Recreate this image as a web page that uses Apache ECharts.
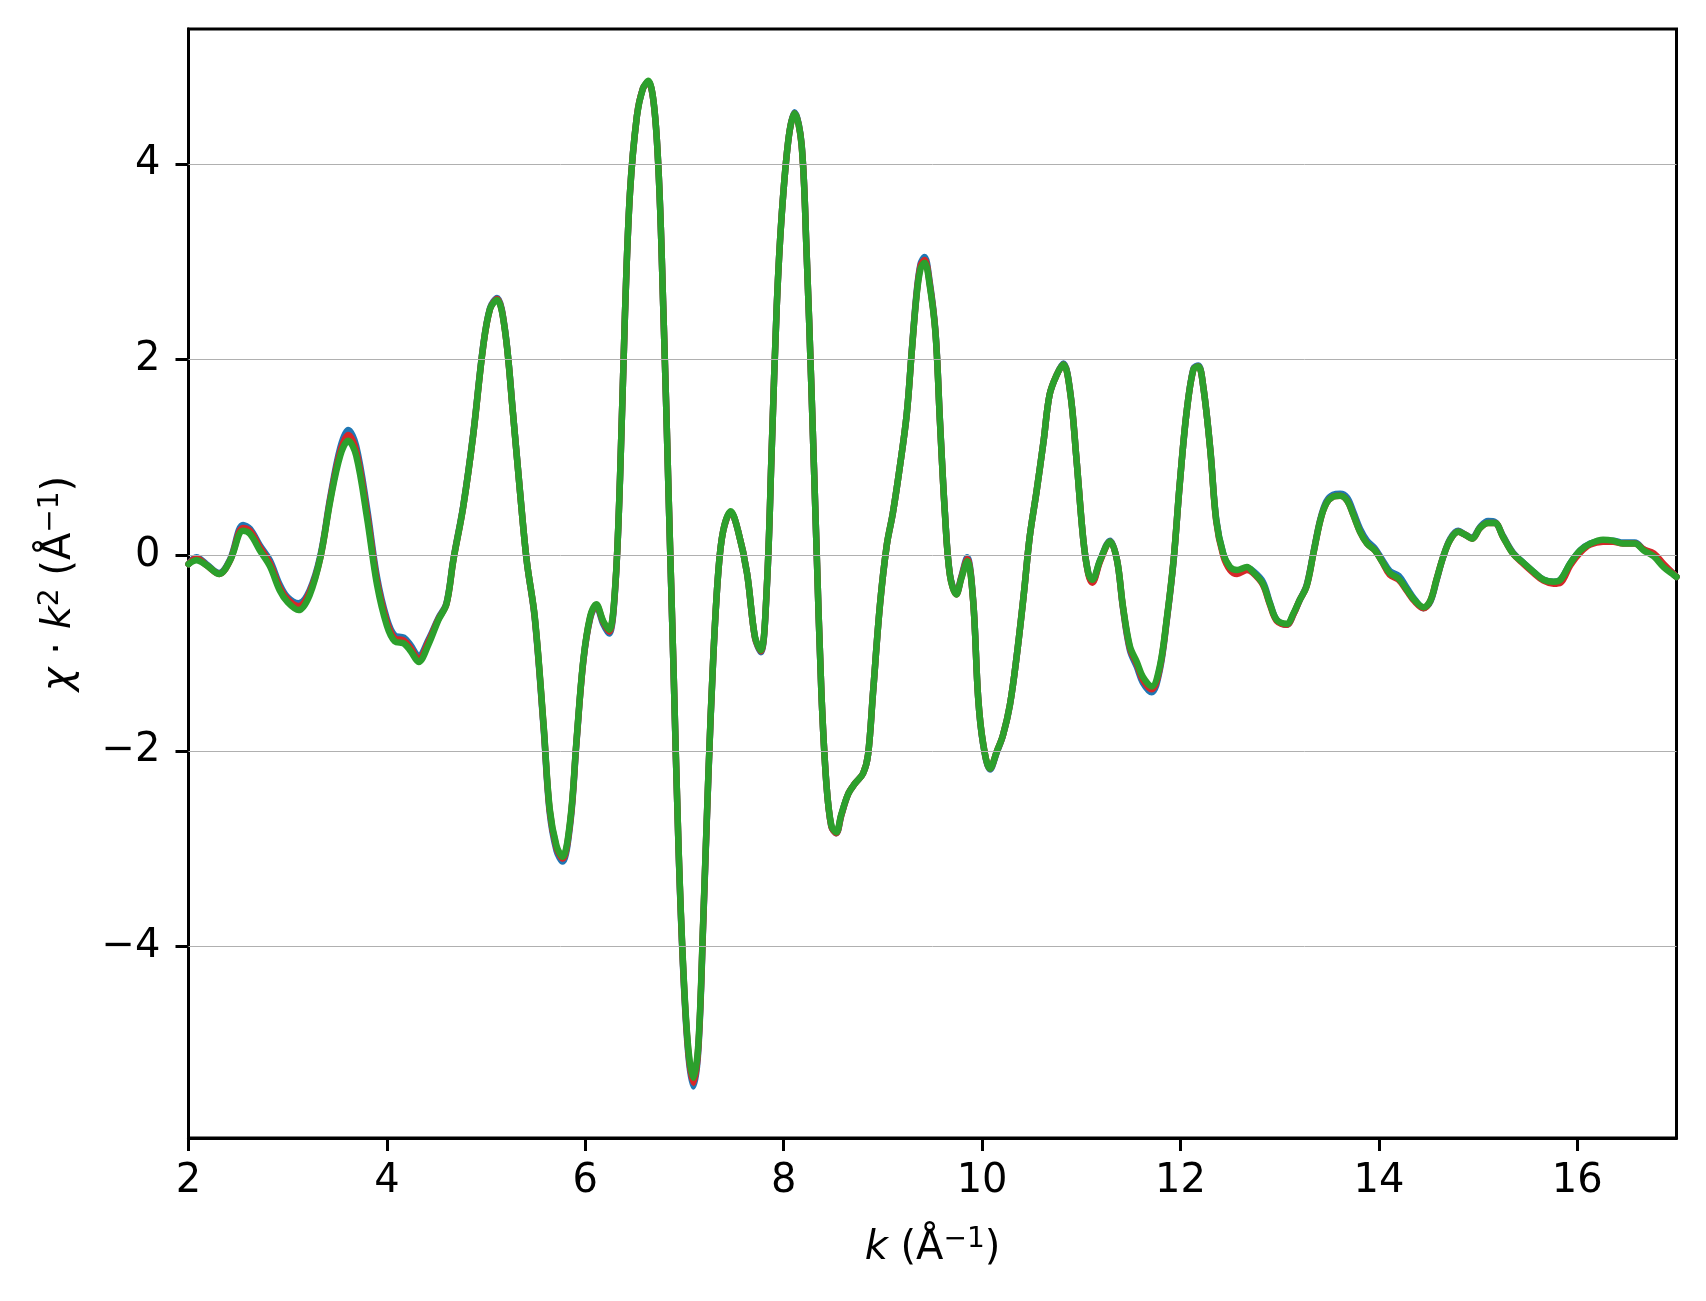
<!DOCTYPE html>
<html>
<head>
<meta charset="utf-8">
<script src="https://cdn.jsdelivr.net/npm/echarts@6/dist/echarts.min.js"></script>
<style>
html,body{margin:0;padding:0;background:#fff;}
#chart{width:1706px;height:1301px;}
</style>
</head>
<body>
<div id="chart"></div>
<script>
const kValues = [2.00,2.08,2.18,2.31,2.42,2.55,2.62,2.72,2.82,2.92,3.00,3.11,3.22,3.33,3.43,3.53,3.61,3.69,3.80,3.90,4.00,4.08,4.17,4.24,4.32,4.42,4.52,4.60,4.67,4.77,4.87,4.97,5.04,5.11,5.19,5.27,5.34,5.41,5.49,5.58,5.64,5.71,5.77,5.85,5.91,5.98,6.05,6.11,6.18,6.24,6.30,6.35,6.40,6.45,6.52,6.58,6.635,6.72,6.79,6.84,6.89,6.94,6.99,7.04,7.09,7.14,7.19,7.24,7.29,7.34,7.39,7.466,7.54,7.63,7.71,7.77,7.83,7.88,7.93,7.98,8.05,8.11,8.18,8.23,8.28,8.33,8.38,8.43,8.48,8.53,8.58,8.65,8.72,8.80,8.85,8.90,8.97,9.04,9.10,9.17,9.24,9.29,9.34,9.38,9.42,9.47,9.53,9.575,9.625,9.675,9.74,9.79,9.85,9.91,9.96,10.01,10.08,10.15,10.21,10.28,10.35,10.42,10.48,10.55,10.62,10.68,10.75,10.82,10.89,10.95,11.02,11.07,11.11,11.19,11.29,11.36,11.42,11.49,11.56,11.62,11.71,11.79,11.86,11.93,11.99,12.06,12.13,12.18,12.23,12.30,12.36,12.43,12.50,12.57,12.67,12.73,12.83,12.90,12.97,13.07,13.14,13.20,13.27,13.34,13.41,13.47,13.54,13.61,13.68,13.74,13.81,13.88,13.96,14.03,14.11,14.20,14.28,14.36,14.45,14.52,14.58,14.65,14.72,14.80,14.87,14.94,15.02,15.10,15.17,15.25,15.35,15.46,15.56,15.66,15.76,15.83,15.93,16.03,16.13,16.26,16.36,16.46,16.58,16.67,16.77,16.87,16.97,17.00];

const greenValues = [-0.09,-0.05,-0.10,-0.19,-0.05,0.25,0.22,0.05,-0.11,-0.36,-0.48,-0.56,-0.41,-0.02,0.56,1.02,1.17,1.02,0.38,-0.30,-0.72,-0.88,-0.90,-0.98,-1.09,-0.91,-0.66,-0.50,-0.05,0.50,1.23,2.13,2.52,2.61,2.30,1.46,0.67,-0.06,-0.62,-1.74,-2.58,-2.97,-3.08,-2.69,-1.91,-1.07,-0.62,-0.50,-0.67,-0.76,-0.34,0.79,2.47,3.70,4.49,4.77,4.85,4.27,2.40,0.61,-1.18,-2.98,-4.27,-5.06,-5.34,-4.99,-3.69,-2.26,-1.04,-0.18,0.25,0.45,0.25,-0.18,-0.83,-0.97,-0.32,1.11,2.55,3.48,4.27,4.52,4.20,3.12,1.69,0.11,-1.40,-2.33,-2.76,-2.83,-2.65,-2.44,-2.33,-2.23,-2.04,-1.41,-0.51,0.11,0.43,0.90,1.44,2.07,2.66,2.93,2.99,2.77,2.27,1.37,0.43,-0.20,-0.40,-0.24,-0.06,-0.47,-1.45,-1.92,-2.18,-2.00,-1.84,-1.53,-1.02,-0.40,0.19,0.66,1.17,1.64,1.84,1.95,1.65,1.00,0.16,-0.18,-0.25,-0.05,0.14,-0.05,-0.52,-0.93,-1.09,-1.24,-1.34,-1.14,-0.66,-0.05,0.70,1.45,1.90,1.93,1.72,1.08,0.36,0.02,-0.12,-0.15,-0.12,-0.17,-0.29,-0.49,-0.66,-0.70,-0.59,-0.46,-0.32,0.02,0.36,0.53,0.60,0.61,0.56,0.42,0.24,0.12,0.05,-0.06,-0.18,-0.24,-0.35,-0.46,-0.53,-0.46,-0.25,-0.01,0.16,0.24,0.21,0.17,0.28,0.33,0.33,0.19,0.02,-0.08,-0.17,-0.25,-0.27,-0.25,-0.08,0.05,0.12,0.16,0.15,0.12,0.12,0.05,-0.01,-0.12,-0.20,-0.22];

const redValues = [-0.09,-0.03,-0.10,-0.19,-0.05,0.28,0.25,0.08,-0.08,-0.33,-0.45,-0.52,-0.38,-0.02,0.58,1.06,1.23,1.07,0.43,-0.26,-0.68,-0.85,-0.87,-0.95,-1.06,-0.88,-0.65,-0.50,-0.05,0.50,1.23,2.13,2.52,2.62,2.30,1.46,0.67,-0.06,-0.63,-1.75,-2.60,-2.99,-3.10,-2.71,-1.92,-1.08,-0.63,-0.51,-0.68,-0.78,-0.35,0.79,2.47,3.70,4.49,4.77,4.84,4.27,2.40,0.61,-1.18,-2.99,-4.29,-5.09,-5.39,-5.02,-3.71,-2.27,-1.04,-0.18,0.25,0.44,0.25,-0.18,-0.84,-0.98,-0.32,1.11,2.55,3.48,4.27,4.52,4.20,3.12,1.69,0.11,-1.40,-2.33,-2.77,-2.84,-2.66,-2.44,-2.33,-2.23,-2.04,-1.41,-0.51,0.11,0.43,0.90,1.44,2.07,2.67,2.96,3.02,2.79,2.28,1.37,0.43,-0.20,-0.40,-0.23,-0.04,-0.47,-1.45,-1.92,-2.18,-2.00,-1.84,-1.53,-1.02,-0.40,0.19,0.66,1.17,1.64,1.84,1.95,1.65,1.00,0.16,-0.19,-0.28,-0.06,0.14,-0.05,-0.53,-0.95,-1.11,-1.27,-1.37,-1.16,-0.67,-0.05,0.70,1.45,1.90,1.93,1.72,1.08,0.35,0.00,-0.15,-0.19,-0.15,-0.18,-0.30,-0.50,-0.67,-0.71,-0.60,-0.46,-0.32,0.02,0.36,0.53,0.60,0.61,0.56,0.42,0.24,0.12,0.05,-0.06,-0.20,-0.25,-0.36,-0.47,-0.54,-0.46,-0.25,-0.01,0.16,0.24,0.21,0.17,0.28,0.33,0.33,0.19,0.02,-0.09,-0.18,-0.26,-0.29,-0.28,-0.10,0.03,0.11,0.14,0.14,0.12,0.12,0.06,0.02,-0.09,-0.19,-0.22];

const blueValues = [-0.09,-0.02,-0.09,-0.18,-0.04,0.31,0.27,0.10,-0.05,-0.30,-0.43,-0.49,-0.36,0.00,0.60,1.10,1.28,1.12,0.48,-0.22,-0.65,-0.82,-0.84,-0.92,-1.03,-0.86,-0.64,-0.49,-0.04,0.51,1.24,2.14,2.53,2.63,2.31,1.47,0.67,-0.06,-0.64,-1.77,-2.62,-3.02,-3.13,-2.73,-1.93,-1.08,-0.64,-0.52,-0.70,-0.80,-0.36,0.78,2.47,3.70,4.49,4.77,4.84,4.27,2.40,0.60,-1.19,-3.00,-4.31,-5.12,-5.43,-5.05,-3.73,-2.28,-1.05,-0.18,0.25,0.44,0.25,-0.18,-0.84,-0.99,-0.33,1.10,2.55,3.48,4.27,4.53,4.21,3.12,1.69,0.11,-1.40,-2.33,-2.77,-2.84,-2.66,-2.44,-2.33,-2.23,-2.04,-1.41,-0.51,0.11,0.43,0.90,1.44,2.08,2.69,2.98,3.05,2.81,2.29,1.38,0.44,-0.19,-0.39,-0.22,-0.02,-0.46,-1.45,-1.93,-2.19,-2.01,-1.84,-1.53,-1.02,-0.40,0.19,0.66,1.17,1.64,1.84,1.96,1.66,1.00,0.16,-0.18,-0.27,-0.05,0.15,-0.05,-0.54,-0.97,-1.14,-1.30,-1.40,-1.18,-0.68,-0.06,0.70,1.45,1.91,1.94,1.72,1.09,0.37,0.02,-0.13,-0.16,-0.13,-0.16,-0.27,-0.48,-0.66,-0.71,-0.60,-0.46,-0.31,0.03,0.37,0.55,0.62,0.63,0.59,0.45,0.27,0.15,0.07,-0.04,-0.16,-0.21,-0.33,-0.45,-0.54,-0.47,-0.26,-0.01,0.17,0.25,0.21,0.18,0.29,0.35,0.34,0.20,0.03,-0.08,-0.17,-0.25,-0.27,-0.25,-0.08,0.05,0.12,0.15,0.15,0.13,0.13,0.06,0.00,-0.10,-0.19,-0.22];

const xTicks = [2,4,6,8,10,12,14,16];
const yTicks = [-4,-2,0,2,4];
const seriesNames = ['blue','red','green'];
const seriesColors = ['#1f77b4','#d62728','#2ca02c'];

function pairs(vals){ return kValues.map((k,i)=>[k, vals[i]]); }
const allSeriesValues = [blueValues, redValues, greenValues];

const fontFam = 'DejaVu Sans';
const FS = 40;
const chart = echarts.init(document.getElementById('chart'), null, {renderer:'canvas'});

const series = [{
  type:'line', data:[], z:0, silent:true, symbol:'none',
  markLine:{
    silent:true, symbol:['none','none'], animation:false,
    label:{show:false},
    lineStyle:{color:'#b0b0b0', width:1, type:'solid'},
    data: yTicks.map(v=>({yAxis:v}))
  }
}];
allSeriesValues.forEach((vals,i)=>{
  series.push({
    name: seriesNames[i], type:'line', data: pairs(vals),
    showSymbol:false, symbol:'none', smooth:0.35, z: 2+i,
    lineStyle:{color:seriesColors[i], width:6.5, join:'round', cap:'round'},
    itemStyle:{color:seriesColors[i]}
  });
});

const minusFmt = v => String(v).replace('-', '\u2212');
const richStyles = {
  i:{fontStyle:'italic', fontSize:FS, fontFamily:fontFam, color:'#000'},
  s:{fontSize:28, fontFamily:fontFam, color:'#000', verticalAlign:'top', padding:[0,0,18,0]}
};

chart.setOption({
  animation:false,
  backgroundColor:'#fff',
  grid:{left:188.5, right:29.5, top:29, bottom:163, show:true, borderColor:'#000', borderWidth:3, backgroundColor:'transparent'},
  xAxis:{
    type:'value', min:2, max:17, interval:2,
    axisLine:{show:true, onZero:false, lineStyle:{color:'#000', width:3}},
    axisTick:{show:true, inside:false, length:13, lineStyle:{color:'#000', width:3}, customValues: xTicks},
    axisLabel:{color:'#000', fontSize:FS, fontFamily:fontFam, margin:24, customValues: xTicks, formatter: minusFmt},
    splitLine:{show:false},
    name:'{i|k} (Å{s|\u22121})',
    nameLocation:'middle', nameGap:88,
    nameTextStyle:{color:'#000', fontSize:FS, fontFamily:fontFam, rich:richStyles}
  },
  yAxis:{
    type:'value', min:-5.956, max:5.38,
    axisLine:{show:true, onZero:false, lineStyle:{color:'#000', width:3}},
    axisTick:{show:true, inside:false, length:13, lineStyle:{color:'#000', width:3}, customValues: yTicks},
    axisLabel:{color:'#000', fontSize:FS, fontFamily:fontFam, margin:28, customValues: yTicks, formatter: minusFmt},
    splitLine:{show:false},
    name:'{i|\u03c7} \u00b7 {i|k}{s|2} (Å{s|\u22121})',
    nameLocation:'middle', nameGap:106, nameRotate:90,
    nameTextStyle:{color:'#000', fontSize:FS, fontFamily:fontFam, rich:richStyles}
  },
  series: series
});
</script>
</body>
</html>
